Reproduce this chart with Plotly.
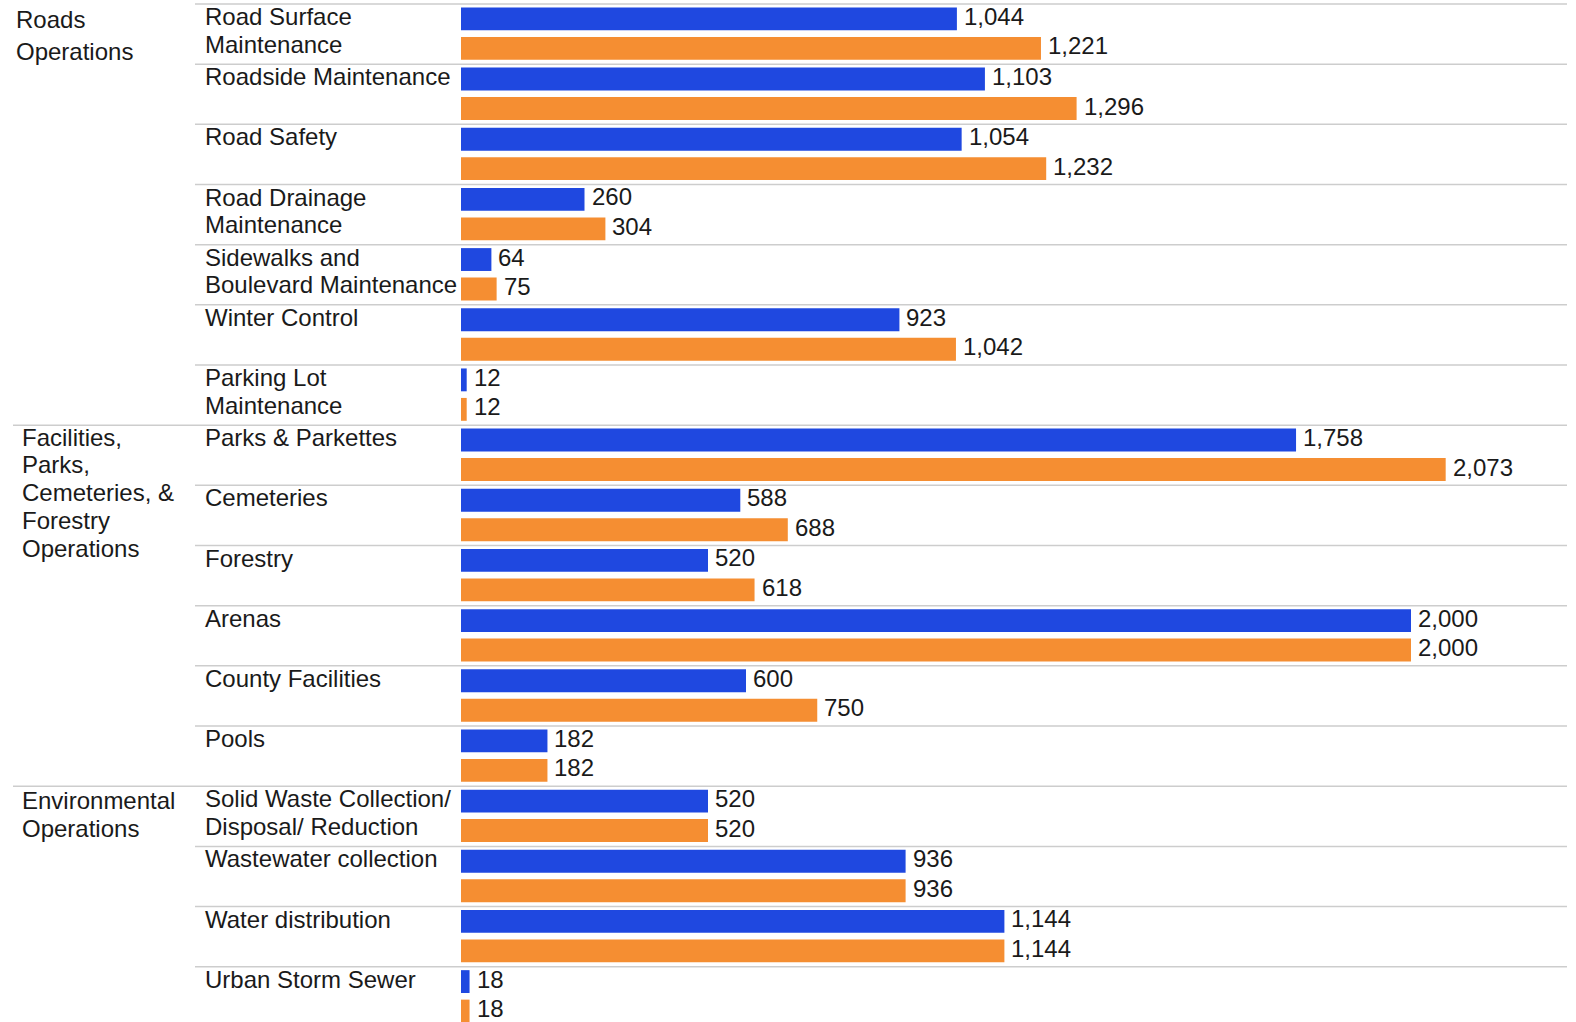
import plotly.graph_objects as go

# Service areas, their sub-services and the two yearly values for each
groups = ["Roads<br>Operations",
          "Facilities,<br>Parks,<br>Cemeteries, &<br>Forestry<br>Operations",
          "Environmental<br>Operations"]
group_sizes = [7, 6, 4]

services = [
    "Road Surface<br>Maintenance",
    "Roadside Maintenance",
    "Road Safety",
    "Road Drainage<br>Maintenance",
    "Sidewalks and<br>Boulevard Maintenance",
    "Winter Control",
    "Parking Lot<br>Maintenance",
    "Parks & Parkettes",
    "Cemeteries",
    "Forestry",
    "Arenas",
    "County Facilities",
    "Pools",
    "Solid Waste Collection/<br>Disposal/ Reduction",
    "Wastewater collection",
    "Water distribution",
    "Urban Storm Sewer",
]

values_a = [1044, 1103, 1054, 260, 64, 923, 12,
            1758, 588, 520, 2000, 600, 182,
            520, 936, 1144, 18]
values_b = [1221, 1296, 1232, 304, 75, 1042, 12,
            2073, 688, 618, 2000, 750, 182,
            520, 936, 1144, 18]

BLUE = "#1f48e0"
ORANGE = "#f58e32"
TEXT = "#1a1a1a"
FONT = "Liberation Sans, Arial, sans-serif"
FS = 24

W, H = 1576, 1022
left, right = 461, 1567
row_px = 60.17
px_per_unit = 0.475
BAR_W = 0.38

rows = list(range(len(services)))
n = len(services)

fig = go.Figure()
annotations = []
for vals, color, off in [(values_a, BLUE, -0.443), (values_b, ORANGE, 0.047)]:
    fig.add_trace(go.Bar(
        x=vals, y=rows, orientation="h",
        width=BAR_W, offset=off,
        marker=dict(color=color, line=dict(width=0)),
        hoverinfo="skip",
    ))
    # value labels just past the end of each bar
    for i, v in enumerate(vals):
        annotations.append(dict(
            text=f"{v:,}", xref="x", yref="y",
            x=v, y=i + off + BAR_W / 2,
            xanchor="left", yanchor="middle",
            xshift=5, yshift=2.5, showarrow=False,
            font=dict(family=FONT, size=FS, color=TEXT)))

plot_w = right - left
def px_to_paper(px):
    return (px - left) / plot_w

# row separators; group boundaries run across the group column too
group_starts = [0]
for s in group_sizes[:-1]:
    group_starts.append(group_starts[-1] + s)

shapes = []
for i in range(n):
    x0 = 13 if (i in group_starts and i != 0) else 195
    shapes.append(dict(type="line", xref="paper", yref="y",
                       x0=px_to_paper(x0), x1=1, y0=i - 0.5, y1=i - 0.5,
                       line=dict(color="#cdcdcd", width=1.5), layer="below"))

line_gap = 27.7
for i, name in enumerate(services):
    for k, part in enumerate(name.split("<br>")):
        annotations.append(dict(
            text=part, xref="paper", yref="y",
            x=px_to_paper(203), y=i - 0.5,
            xanchor="left", yanchor="top", align="left",
            yshift=3 - k * line_gap, showarrow=False,
            font=dict(family=FONT, size=FS, color=TEXT)))

group_x = [14, 20, 20]
group_first_shift = [-0.2, 3.4, 1.5]
group_gap = [32, 27.7, 28]
for g, name in enumerate(groups):
    for k, part in enumerate(name.split("<br>")):
        annotations.append(dict(
            text=part, xref="paper", yref="y",
            x=px_to_paper(group_x[g]), y=group_starts[g] - 0.5,
            xanchor="left", yanchor="top", align="left",
            yshift=group_first_shift[g] - k * group_gap[g], showarrow=False,
            font=dict(family=FONT, size=FS, color=TEXT)))

top_val = -0.5 - 4 / row_px
bottom_val = top_val + H / row_px

fig.update_layout(
    width=W, height=H,
    margin=dict(l=left, r=W - right, t=0, b=0, pad=0),
    barmode="overlay",
    showlegend=False,
    plot_bgcolor="white", paper_bgcolor="white",
    xaxis=dict(range=[0, plot_w / px_per_unit], visible=False, fixedrange=True),
    yaxis=dict(range=[bottom_val, top_val], visible=False, fixedrange=True),
    shapes=shapes,
    annotations=annotations,
    font=dict(family=FONT, size=FS, color=TEXT),
)

fig.write_html("out.html", config={"displayModeBar": False})
